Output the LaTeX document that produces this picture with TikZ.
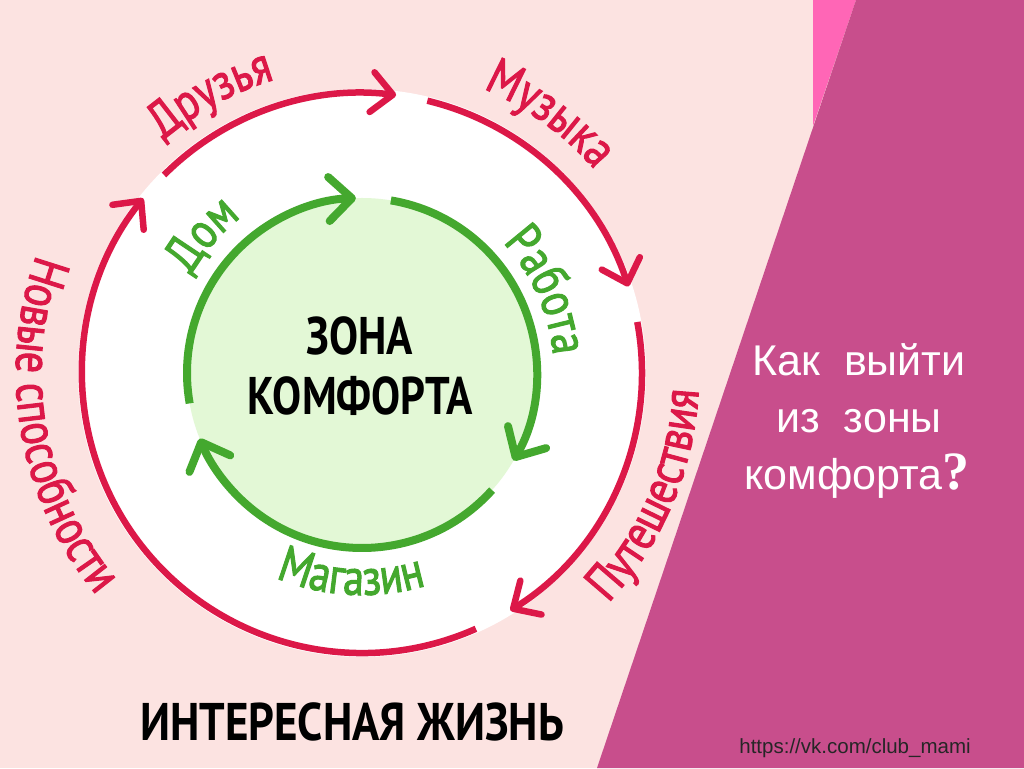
\documentclass[tikz,border=0pt]{standalone}
\usepackage{fontspec}
\setmainfont{Liberation Sans}
\newfontfamily\labelfont[FakeStretch=0.82, FakeBold=2]{PT Sans}
\newfontfamily\headfont[FakeStretch=0.82]{PT Sans}
\newfontfamily\lifefont[FakeStretch=0.85]{PT Sans}
\newfontfamily\askfont{Liberation Serif}
\usetikzlibrary{arrows.meta, calc, decorations.text}
\definecolor{bgpink}{HTML}{FCE3E1}
\definecolor{hotpink}{HTML}{FF66B6}
\definecolor{plum}{HTML}{C84E8C}
\definecolor{ringred}{HTML}{DC1848}
\definecolor{ringgreen}{HTML}{44A82E}
\definecolor{zonegreen}{HTML}{E3F8D6}
\newcommand\ringfont{\labelfont\fontsize{51}{54}\selectfont}

\begin{document}
\begin{tikzpicture}[x=1pt, y=1pt,
		outerarc/.style={draw=ringred, line width=6.5pt, -{Straight Barb[length=21pt, width=40pt, round]}},
		innerarc/.style={draw=ringgreen, line width=8pt, -{Straight Barb[length=23pt, width=44pt, round]}},
		ringtext/.style={decorate, decoration={text along path, text align=center, text color=#1}},
		headtext/.style={font=\headfont\bfseries\fontsize{53}{60}\selectfont, anchor=base},
		titletext/.style={font=\fontsize{43}{57}\selectfont, text=white, anchor=base}]
		\useasboundingbox (0,0) rectangle (1024,768);
		
		% background
		\fill[bgpink] (0,0) rectangle (1024,768);
		\fill[hotpink] (813,768) -- (856,768) -- (813,642) -- cycle;
		\fill[plum] (856,768) -- (1024,768) -- (1024,0) -- (597,0) -- cycle;
		
		\coordinate (c) at (362,395);
		\fill[white] (c) circle[radius=284];
		\fill[zonegreen] (c) circle[radius=175];
		
		% outer ring
		\draw[outerarc] ($(c)+(135:280)$) arc[start angle=135, end angle=83, radius=280];
		\draw[outerarc] ($(c)+(76.5:280)$) arc[start angle=76.5, end angle=18, radius=280];
		\draw[outerarc] ($(c)+(10.5:280)$) arc[start angle=10.5, end angle=-58, radius=280];
		\draw[outerarc] ($(c)+(-66:280)$) arc[start angle=-66, end angle=-218.6, radius=280];
		
		% inner ring
		\draw[innerarc] ($(c)+(190:175)$) arc[start angle=190, end angle=92, radius=175];
		\draw[innerarc] ($(c)+(80.5:175)$) arc[start angle=80.5, end angle=-30, radius=175];
		\draw[innerarc] ($(c)+(-42:175)$) arc[start angle=-42, end angle=-158, radius=175];
		
		% ring labels
		\path[ringtext=ringred, decoration={text={|\ringfont|Друзья}}] ($(c)+(150:306)$) arc[start angle=150, end angle=87, radius=306];
		\path[ringtext=ringred, decoration={text={|\ringfont|Музыка}}] ($(c)+(85:309)$) arc[start angle=85, end angle=23, radius=309];
		\path[ringtext=ringred, decoration={text={|\ringfont|Путешествия}}] ($(c)+(-62:337)$) arc[start angle=-62, end angle=16, radius=337];
		\path[ringtext=ringred, decoration={text={|\ringfont|Новые способности}}] ($(c)+(145:346)$) arc[start angle=145, end angle=235, radius=346];
		\path[ringtext=ringgreen, decoration={text={|\ringfont|Дом}}] ($(c)+(175:197)$) arc[start angle=175, end angle=103, radius=197];
		\path[ringtext=ringgreen, decoration={text={|\ringfont|Работа}}] ($(c)+(70:192)$) arc[start angle=70, end angle=-22, radius=192];
		\path[ringtext=ringgreen, decoration={text={|\ringfont|Магазин}}] ($(c)+(-140:222)$) arc[start angle=-140, end angle=-46, radius=222];
		
		\node[headtext] (zone) at (360,413) {ЗОНА};
		\node[headtext] (comfort) at (360,353) {КОМФОРТА};
		\node[headtext, font=\lifefont\bfseries\fontsize{53}{60}\selectfont] (life) at (352,28) {ИНТЕРЕСНАЯ ЖИЗНЬ};
		
		\node[titletext] (title1) at (859,392) {Как~~выйти};
		\node[titletext] (title2) at (859,335) {из~~зоны};
		\node[titletext] (title3) at (857,278) {комфорта{\askfont\bfseries\fontsize{54}{54}\selectfont ?}};
		\node[font=\fontsize{20.5}{22}\selectfont, text=black!85, anchor=base] (link) at (855,15) {https://vk.com/club\_mami};
	\end{tikzpicture}
\end{document}
